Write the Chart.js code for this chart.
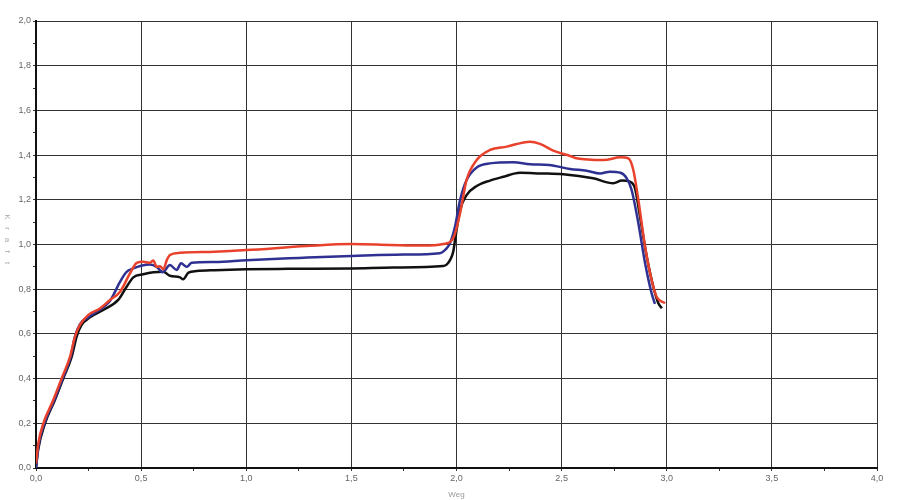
<!DOCTYPE html>
<html>
<head>
<meta charset="utf-8">
<script src="https://cdn.jsdelivr.net/npm/chart.js@4"></script>
<style>
  body { margin: 0; background: #fff; }
  #wrap { width: 900px; height: 500px; position: relative; }
</style>
</head>
<body>
<div id="wrap"><canvas id="kraftChart"></canvas></div>
<script>
// Weg / Kraft
const wegSchwarz = [0, 0.01, 0.043, 0.09, 0.13, 0.17, 0.193, 0.217, 0.257, 0.32, 0.391, 0.431, 0.463, 0.51, 0.558, 0.606, 0.637, 0.685, 0.70, 0.725, 0.764, 0.85, 1.0, 1.2, 1.5, 1.7, 1.937, 1.953, 1.969, 1.985, 1.993, 2.017, 2.048, 2.096, 2.159, 2.223, 2.302, 2.397, 2.508, 2.65, 2.746, 2.786, 2.825, 2.849, 2.873, 2.905, 2.936, 2.96, 2.977]
const kraftSchwarz = [0.0, 0.08, 0.2, 0.304, 0.401, 0.498, 0.587, 0.64, 0.674, 0.707, 0.752, 0.811, 0.853, 0.867, 0.876, 0.878, 0.86, 0.853, 0.844, 0.874, 0.881, 0.885, 0.889, 0.891, 0.893, 0.897, 0.904, 0.91, 0.93, 0.97, 1.02, 1.154, 1.221, 1.262, 1.286, 1.303, 1.321, 1.318, 1.314, 1.296, 1.274, 1.286, 1.281, 1.251, 1.124, 0.945, 0.811, 0.737, 0.715]

const wegBlau = [0, 0.01, 0.04, 0.087, 0.127, 0.165, 0.185, 0.21, 0.25, 0.289, 0.35, 0.368, 0.40, 0.431, 0.463, 0.50, 0.542, 0.574, 0.603, 0.637, 0.669, 0.69, 0.717, 0.74, 0.85, 1.0, 1.25, 1.5, 1.75, 1.92, 1.953, 1.969, 1.993, 2.017, 2.048, 2.096, 2.159, 2.27, 2.35, 2.44, 2.54, 2.619, 2.683, 2.73, 2.78, 2.81, 2.833, 2.865, 2.897, 2.928, 2.944]
const kraftBlau = [0.0, 0.09, 0.2, 0.304, 0.401, 0.498, 0.587, 0.645, 0.675, 0.70, 0.745, 0.774, 0.834, 0.878, 0.893, 0.905, 0.911, 0.90, 0.876, 0.908, 0.886, 0.916, 0.90, 0.918, 0.922, 0.93, 0.94, 0.949, 0.955, 0.961, 0.983, 1.005, 1.08, 1.199, 1.289, 1.345, 1.363, 1.368, 1.359, 1.356, 1.338, 1.33, 1.318, 1.326, 1.321, 1.296, 1.244, 1.095, 0.916, 0.782, 0.734]

const wegRot = [0, 0.011, 0.035, 0.082, 0.122, 0.162, 0.185, 0.209, 0.249, 0.304, 0.352, 0.40, 0.447, 0.479, 0.51, 0.542, 0.558, 0.574, 0.59, 0.606, 0.622, 0.637, 0.685, 0.85, 1.0, 1.287, 1.5, 1.684, 1.842, 1.937, 1.985, 2.017, 2.048, 2.096, 2.159, 2.239, 2.35, 2.397, 2.46, 2.54, 2.57, 2.70, 2.78, 2.817, 2.841, 2.865, 2.897, 2.928, 2.952, 2.992]
const kraftRot = [0.02, 0.11, 0.2, 0.304, 0.401, 0.498, 0.587, 0.64, 0.685, 0.714, 0.752, 0.789, 0.871, 0.918, 0.923, 0.918, 0.928, 0.90, 0.903, 0.889, 0.93, 0.953, 0.963, 0.968, 0.975, 0.993, 1.002, 0.998, 0.995, 1.002, 1.03, 1.14, 1.289, 1.378, 1.423, 1.438, 1.46, 1.45, 1.42, 1.396, 1.386, 1.378, 1.39, 1.386, 1.333, 1.199, 0.99, 0.841, 0.766, 0.737]

function pairs(xs, ys) {
    let out = []
    for (let i = 0; i < xs.length; i++)
        out.push({x: xs[i], y: ys[i]})
    return out
}

function komma(v, step) {
    let r = Math.round(v * 100) / 100
    if (Math.abs(r / step - Math.round(r / step)) > 1e-6) return ''
    return r.toFixed(1).replace('.', ',')
}

function isMajor(v, step) {
    return Math.abs(v / step - Math.round(v / step)) < 1e-6
}

// y title: letters run top to bottom
const kraftTitel = {
    id: 'kraftTitel',
    afterDraw(chart) {
        const ctx = chart.ctx
        ctx.save()
        ctx.fillStyle = '#a8a8a8'
        ctx.font = '8px "Liberation Sans", Arial, sans-serif'
        ctx.textAlign = 'center'
        ctx.textBaseline = 'middle'
        const txt = 'Kraft'
        for (let i = 0; i < txt.length; i++) {
            ctx.save()
            ctx.translate(7, 217 + i * 11.5)
            ctx.rotate(Math.PI / 2)
            ctx.fillText(txt[i], 0, 0)
            ctx.restore()
        }
        ctx.restore()
    }
}

const line = (data, color) => ({
    data: data,
    borderColor: color,
    borderWidth: 2.5,
    pointRadius: 0,
    fill: false,
    cubicInterpolationMode: 'monotone'
})

const data = {
    datasets: [
        line(pairs(wegRot, kraftRot), '#e8412c'),
        line(pairs(wegBlau, kraftBlau), '#2e3192'),
        line(pairs(wegSchwarz, kraftSchwarz), '#111111')
    ]
}

const tickFont = {family: '"Liberation Sans", Arial, sans-serif', size: 9}

const config = {
    type: 'scatter',
    data: data,
    options: {
        responsive: true,
        maintainAspectRatio: false,
        animation: false,
        showLine: true,
        layout: {padding: {top: 21, right: 23, left: 0, bottom: 0}},
        plugins: {legend: {display: false}, tooltip: {enabled: false}},
        scales: {
            x: {
                type: 'linear', min: 0, max: 4,
                afterFit: s => { s.height = 32 },
                ticks: {
                    stepSize: 0.25, autoSkip: false, maxRotation: 0,
                    color: '#666', font: tickFont, padding: 2,
                    callback: v => komma(v, 0.5)
                },
                grid: {
                    color: c => isMajor(c.tick.value, 0.5) ? '#333' : 'rgba(0,0,0,0)',
                    tickColor: '#333', tickLength: 3, lineWidth: 1
                },
                border: {color: '#111', width: 2},
                title: {display: true, text: 'Weg', color: '#999', font: {family: tickFont.family, size: 8}, padding: 0}
            },
            y: {
                min: 0, max: 2,
                afterFit: s => { s.width = 36 },
                ticks: {
                    stepSize: 0.1, autoSkip: false,
                    color: '#666', font: tickFont, padding: 2,
                    callback: v => komma(v, 0.2)
                },
                grid: {
                    color: c => isMajor(c.tick.value, 0.2) ? '#333' : 'rgba(0,0,0,0)',
                    tickColor: '#333', tickLength: 3, lineWidth: 1
                },
                border: {color: '#111', width: 2}
            }
        }
    },
    plugins: [kraftTitel]
}

let ch = document.getElementById('kraftChart').getContext('2d')
new Chart(ch, config)
</script>
</body>
</html>
